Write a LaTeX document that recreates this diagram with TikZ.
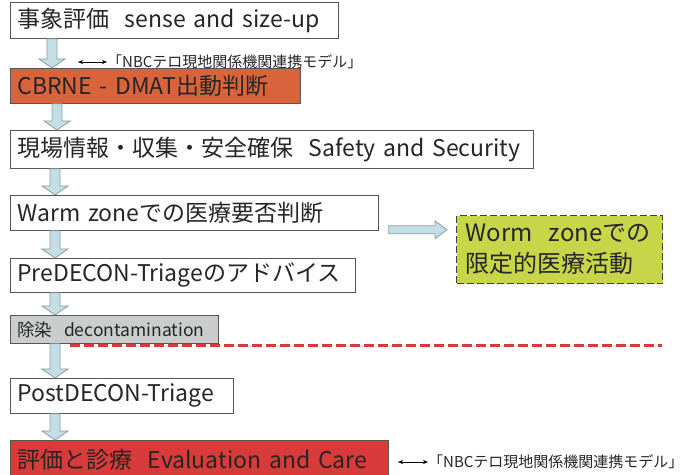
\documentclass[tikz,border=0pt]{standalone}
\usepackage{fontspec}
\setmainfont{Noto Sans CJK JP}
\usetikzlibrary{calc,arrows.meta}
\definecolor{orangebox}{HTML}{D9643C}
\definecolor{redbox}{HTML}{D93A3A}
\definecolor{limebox}{HTML}{C6D648}
\definecolor{graybox}{HTML}{CBCCCC}
\definecolor{arrowfill}{HTML}{C4DEE6}
\definecolor{arrowline}{HTML}{8A9EA6}
\definecolor{boxline}{HTML}{555555}
\definecolor{dashred}{HTML}{D93A3A}
\definecolor{txt}{HTML}{262626}
\tikzset{
  box/.style={draw=boxline, line width=0.8pt, anchor=north west, inner xsep=7pt, inner ysep=0pt,
    align=left, text=txt, font=\fontsize{23}{26}\selectfont},
  blockarrow/.style={fill=arrowfill, draw=arrowline, line width=0.8pt},
  lbl/.style={font=\fontsize{15}{17}\selectfont, anchor=west, inner sep=0pt, text=txt},
  thinarrow/.style={{Stealth[length=5pt,width=4pt]}-{Stealth[length=5pt,width=4pt]}, line width=0.6pt},
  zonebox/.style={draw=black!75, fill=limebox, line width=1.4pt, dash pattern=on 7pt off 3pt,
    anchor=north west, inner xsep=9pt, inner ysep=0pt, align=left, text=txt, font=\fontsize{24}{31}\selectfont},
  redline/.style={draw=dashred, line width=3pt, dash pattern=on 10pt off 4pt},
}
\newcommand{\blockdown}[3]{%
  \path[blockarrow] let \p1=($(#1.south west)+(#3,0)$), \p2=($(#2.north west)+(#3,0)$) in
    (\x1-5pt,\y1) -- (\x1+5pt,\y1) -- (\x1+5pt,\y2+9pt) -- (\x1+13pt,\y2+9pt) -- (\x1,\y2)
    -- (\x1-13pt,\y2+9pt) -- (\x1-5pt,\y2+9pt) -- cycle;}
\newcommand{\blockright}[2]{%
  \path[blockarrow] let \p1=(#1), \p2=(#2) in
    (\x1,\y1+4pt) -- (\x2-12pt,\y1+4pt) -- (\x2-12pt,\y1+9pt) -- (\x2,\y1)
    -- (\x2-12pt,\y1-9pt) -- (\x2-12pt,\y1-4pt) -- (\x1,\y1-4pt) -- cycle;}
\begin{document}
\begin{tikzpicture}[x=1pt,y=-1pt]
\useasboundingbox (0,0) rectangle (685,474);
\fill[white] (0,0) rectangle (685,474);

\node[box, fill=white, text width=314pt, minimum height=36pt] (b1) at (10,2) {\mbox{事象評価\ \ sense and size-up}};
\node[box, fill=orangebox, text width=276pt, minimum height=35pt] (b2) at (10,68) {\mbox{CBRNE - DMAT出動判断}};
\node[box, fill=white, text width=509pt, minimum height=38pt] (b3) at (10,130) {\mbox{現場情報・収集・安全確保\ \ Safety and Security}};
\node[box, fill=white, text width=354pt, minimum height=35pt] (b4) at (10,195) {\mbox{Warm zoneでの医療要否判断}};
\node[box, fill=white, text width=331pt, minimum height=34pt] (b5) at (10,258) {\mbox{PreDECON-Triageのアドバイス}};
\node[box, fill=graybox, text width=194pt, minimum height=28pt, font=\fontsize{17.5}{19}\selectfont] (b6) at (10,315) {\mbox{除染\ \ decontamination}};
\node[box, fill=white, text width=209pt, minimum height=35pt] (b7) at (10,378) {\mbox{PostDECON-Triage}};
\node[box, fill=redbox, text width=364pt, minimum height=38pt, anchor=north west] (b8) at (10,440) {\mbox{評価と診療\ \ Evaluation and Care}};

\node[zonebox, text width=188pt, minimum height=68pt] (z) at (456,215) {\mbox{Worm\ \ zoneでの}\\\mbox{限定的医療活動}};

\blockdown{b1}{b2}{42}
\blockdown{b2}{b3}{47}
\blockdown{b3}{b4}{45}
\blockdown{b4}{b5}{45}
\blockdown{b5}{b6}{45}
\blockdown{b6}{b7}{45}
\blockdown{b7}{b8}{45}

\coordinate (ra) at ($(b4.south east)+(10,-1)$);
\coordinate (rb) at ($(z.west)+(-9,0)$);
\coordinate (rbb) at (rb |- ra);
\blockright{ra}{rbb}

\coordinate (dl) at (70,345);
\coordinate (dr) at (662,345);
\draw[redline] (dl) -- (dr);

\node[lbl] (l1) at (107,62) {「NBCテロ現地関係機関連携モデル」};
\coordinate (a1) at (78,62);
\draw[thinarrow] (a1) -- (l1.west);

\node[lbl] (l2) at (428,462) {「NBCテロ現地関係機関連携モデル」};
\coordinate (a2) at (398,462);
\draw[thinarrow] (a2) -- (l2.west);
\end{tikzpicture}
\end{document}
